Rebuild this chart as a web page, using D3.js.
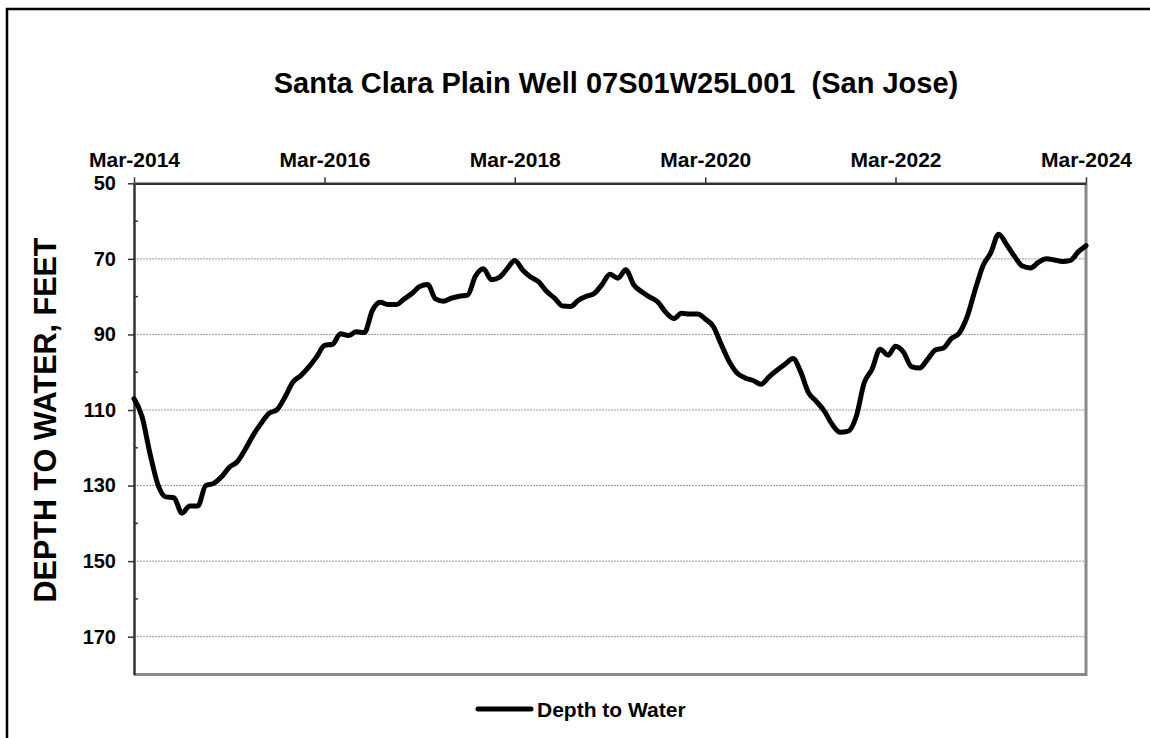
<!DOCTYPE html>
<html>
<head>
<meta charset="utf-8">
<script src="https://cdn.jsdelivr.net/npm/d3@7"></script>
<style>
  body { margin: 0; background: #fff; }
  svg text { font-family: "Liberation Sans", Arial, sans-serif; font-weight: bold; fill: #000; }
</style>
</head>
<body>
<div class="chart"></div>
<script>
"use strict";

// DATA ----------------------------
const START = "2014-03";               // first monthly reading
const TICK_LABELS = ["Mar-2014", "Mar-2016", "Mar-2018", "Mar-2020", "Mar-2022", "Mar-2024"];
const Y_TICKS = [50, 70, 90, 110, 130, 150, 170];
// depth to water, feet, one reading per month from Mar-2014
const depths = [
  107.0, 111.8, 121.4, 129.8, 133.0, 133.2, 137.3, 135.4, 135.4, 130.0,
  129.4, 127.6, 125.2, 123.7, 120.5, 116.7, 113.6, 110.9, 109.9, 106.6,
  102.6, 100.9, 98.6, 95.8, 92.9, 92.6, 89.8, 90.3, 89.3, 89.5,
  83.6, 81.5, 82.1, 82.1, 80.6, 79.1, 77.3, 76.8, 80.6, 81.2,
  80.4, 79.9, 79.6, 74.6, 72.6, 75.5, 74.9, 72.5, 70.4, 73.0,
  74.8, 76.1, 78.6, 80.4, 82.5, 82.6, 80.9, 79.9, 79.1, 76.6,
  74.1, 75.1, 72.9, 76.9, 78.7, 80.1, 81.4, 84.1, 85.8, 84.4,
  84.6, 84.6, 85.9, 87.9, 92.6, 97.2, 100.2, 101.5, 102.2, 103.2,
  101.2, 99.5, 97.9, 96.4, 99.7, 105.4, 107.7, 110.3, 113.8, 115.9,
  115.6, 111.8, 102.8, 99.2, 93.9, 95.5, 93.1, 94.7, 98.5, 98.9,
  96.7, 94.1, 93.6, 91.1, 89.6, 85.3, 78.1, 71.6, 68.5, 63.5,
  66.2, 69.4, 71.9, 72.4, 70.9, 70.0, 70.3, 70.7, 70.4, 68.1, 66.5
];

// LAYOUT ----------------------------
const W = 1150, H = 738;
const PLOT = { left: 134, right: 1086, top: 183.3, bottom: 674.5 };

const svg = d3.select(".chart").append("svg")
  .attr("width", W).attr("height", H);

// outer frame (runs off the right and bottom edges)
svg.append("rect")
  .attr("x", 7).attr("y", 9).attr("width", 1200).attr("height", 800)
  .attr("fill", "none").attr("stroke", "#000").attr("stroke-width", 2.5);

const parse = d3.timeParse("%Y-%m");
const t0 = parse(START);
const data = depths.map((v, i) => ({ date: d3.timeMonth.offset(t0, i), depth: v }));
const tickDates = TICK_LABELS.map((s) => d3.timeParse("%b-%Y")(s));

const xScale = d3.scaleTime()
  .domain([t0, tickDates[tickDates.length - 1]])
  .range([PLOT.left, PLOT.right]);
const yScale = d3.scaleLinear().domain([50, 180]).range([PLOT.top, PLOT.bottom]);

// gridlines
svg.append("g")
  .selectAll("line")
  .data(Y_TICKS.slice(1))
  .join("line")
  .attr("x1", PLOT.left).attr("x2", PLOT.right)
  .attr("y1", (d) => yScale(d)).attr("y2", (d) => yScale(d))
  .attr("stroke", "#999").attr("stroke-width", 1).attr("stroke-dasharray", "2,1");

// plot frame: right / bottom grey
svg.append("path")
  .attr("d", `M${PLOT.right},${PLOT.top}V${PLOT.bottom}H${PLOT.left}`)
  .attr("fill", "none").attr("stroke", "#888").attr("stroke-width", 3);

// y axis
const yAxis = d3.axisLeft(yScale).tickValues(Y_TICKS).tickSize(6).tickSizeOuter(0).tickPadding(12);
const yGroup = svg.append("g").attr("transform", `translate(${PLOT.left},0)`).call(yAxis);
yGroup.select(".domain").attr("stroke", "#333").attr("stroke-width", 2.5);
yGroup.selectAll(".tick line").attr("stroke", "#333").attr("stroke-width", 1.5);
yGroup.selectAll(".tick text").style("font-size", "20px");

// minor y ticks inside
svg.append("g")
  .selectAll("line")
  .data([60, 80, 100, 120, 140, 160])
  .join("line")
  .attr("x1", PLOT.left).attr("x2", PLOT.left + 4)
  .attr("y1", (d) => yScale(d)).attr("y2", (d) => yScale(d))
  .attr("stroke", "#333").attr("stroke-width", 1.5);

// x axis (top)
const xAxis = d3.axisTop(xScale).tickValues(tickDates)
  .tickFormat((d, i) => TICK_LABELS[i]).tickSize(6).tickSizeOuter(0).tickPadding(10);
const xGroup = svg.append("g").attr("transform", `translate(0,${PLOT.top})`).call(xAxis);
xGroup.select(".domain").attr("stroke", "#333").attr("stroke-width", 2.5);
xGroup.selectAll(".tick line").attr("stroke", "#333").attr("stroke-width", 1.5);
xGroup.selectAll(".tick text").style("font-size", "21px");

// the series
const line = d3.line()
  .x((d) => xScale(d.date))
  .y((d) => yScale(d.depth))
  .curve(d3.curveMonotoneX);

svg.append("path")
  .datum(data)
  .attr("d", line)
  .attr("fill", "none").attr("stroke", "#000").attr("stroke-width", 5)
  .attr("stroke-linejoin", "round").attr("stroke-linecap", "round");

// title
svg.append("text")
  .attr("x", 616).attr("y", 93)
  .attr("text-anchor", "middle")
  .attr("xml:space", "preserve")
  .style("font-size", "29px")
  .text("Santa Clara Plain Well 07S01W25L001  (San Jose)");

// y label
svg.append("text")
  .attr("transform", "translate(56,420) rotate(-90)")
  .attr("text-anchor", "middle")
  .style("font-size", "30.5px")
  .text("DEPTH TO WATER, FEET");

// legend
svg.append("line")
  .attr("x1", 478).attr("x2", 531).attr("y1", 709).attr("y2", 709)
  .attr("stroke", "#000").attr("stroke-width", 5).attr("stroke-linecap", "round");
svg.append("text")
  .attr("x", 537).attr("y", 716.5)
  .style("font-size", "21px")
  .text("Depth to Water");
</script>
</body>
</html>
